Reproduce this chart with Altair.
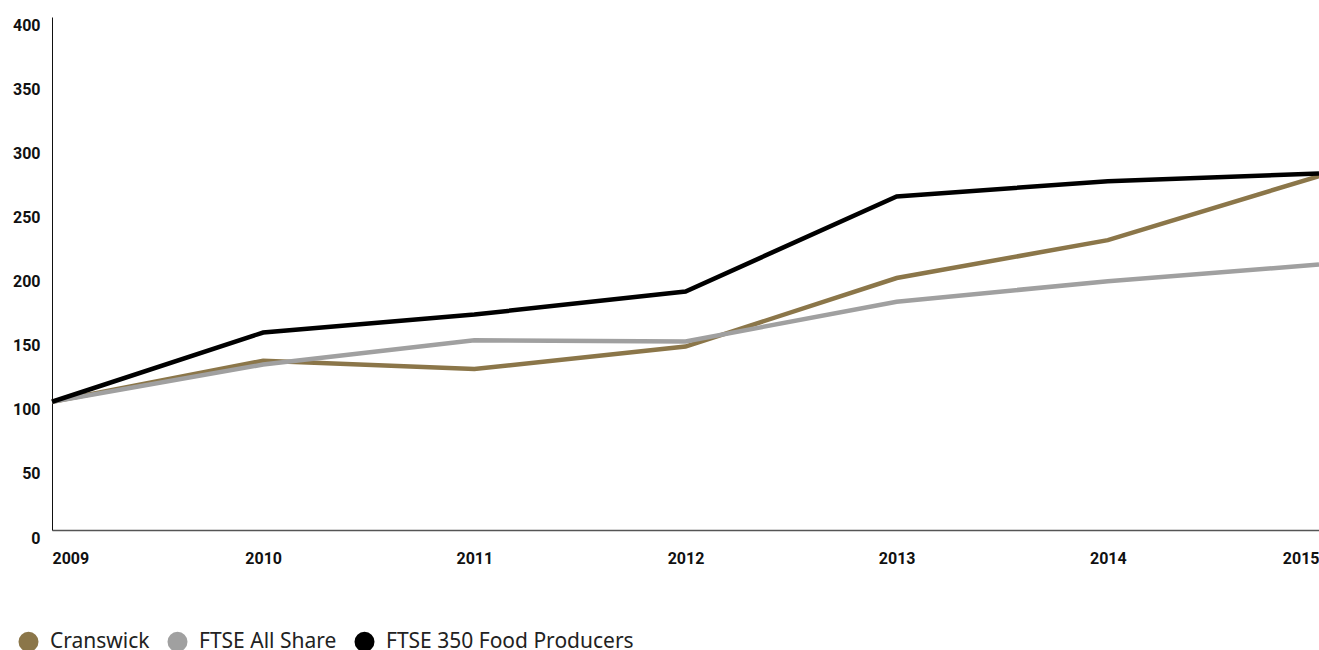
import altair as alt
import pandas as pd

years = [2009, 2010, 2011, 2012, 2013, 2014, 2015]
cranswick = [100, 132, 125.5, 143, 196.5, 226, 276]
ftse_all_share = [100, 129, 148, 147, 178, 194, 207]
ftse_350_food = [100, 154, 168, 186, 260, 272, 278]

series_names = ["Cranswick", "FTSE All Share", "FTSE 350 Food Producers"]
series_colors = ["#8B7649", "#A0A0A0", "#000000"]

rows = []
for name, vals in zip(series_names, [cranswick, ftse_all_share, ftse_350_food]):
    for y, v in zip(years, vals):
        rows.append({"year": y, "value": v, "series": name})
df = pd.DataFrame(rows)

axis_font = "Roboto"

chart = alt.Chart(df).mark_line(strokeWidth=4.5, strokeJoin="miter").encode(
    x=alt.X("year:Q", scale=alt.Scale(domain=[2009, 2015], nice=False, zero=False),
            axis=alt.Axis(values=years, format="d", title=None, ticks=False, grid=False,
                          labelFlush=True, labelPadding=20, labelFont=axis_font,
                          labelFontWeight="bold", labelFontSize=16, labelColor="#111",
                          domainColor="#555", domainWidth=1.5)),
    y=alt.Y("value:Q", scale=alt.Scale(domain=[0, 400], nice=False),
            axis=alt.Axis(values=[0, 50, 100, 150, 200, 250, 300, 350, 400], title=None,
                          ticks=False, grid=False, labelPadding=12, labelOffset=8,
                          labelFlush=False,
                          labelFont=axis_font, labelFontWeight="bold", labelFontSize=16,
                          labelColor="#111", domainColor="#111", domainWidth=1)),
    color=alt.Color("series:N", sort=series_names,
                    scale=alt.Scale(domain=series_names, range=series_colors),
                    legend=alt.Legend(title=None, orient="none", direction="horizontal",
                                      legendX=-34, legendY=614, symbolType="circle",
                                      symbolSize=100, symbolStrokeWidth=10,
                                      symbolOpacity=1,
                                      labelFont="Noto Sans", labelFontSize=21,
                                      labelColor="#222", labelOffset=11, columnPadding=2,
                                      labelLimit=400)),
).properties(
    width=1267, height=513,
    padding={"left": 52, "top": 17, "right": 0, "bottom": 120},
    autosize=alt.AutoSizeParams(type="none"),
).configure_view(stroke=None)

chart.save("out.html", embed_options={"renderer": "svg", "actions": False})
